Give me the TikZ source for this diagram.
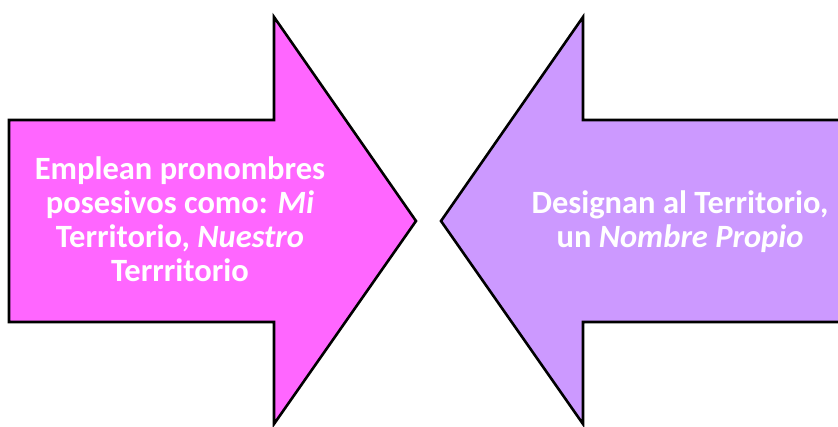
\documentclass[tikz,border=0pt]{standalone}
\usepackage{fontspec}
\setmainfont{Carlito}
\definecolor{pinkfill}{HTML}{FF66FF}
\definecolor{lilacfill}{HTML}{CC99FF}
\begin{document}
\begin{tikzpicture}[x=1pt,y=-1pt,
  arrowshape/.style={draw=black,line width=2.6pt,line join=miter},
  label/.style={text=white,font=\bfseries\fontsize{32.5}{34}\selectfont,align=center}]
\useasboundingbox (0,0) rectangle (838,426);
\begin{scope}
\clip (0,0) rectangle (838,426);
\draw[arrowshape,fill=pinkfill] (9,120) -- (274,120) -- (274,17) -- (416,221) -- (274,424) -- (274,322) -- (9,322) -- cycle;
\draw[arrowshape,fill=lilacfill] (860,120) -- (583,120) -- (583,17) -- (441,221) -- (583,424) -- (583,322) -- (860,322) -- cycle;
\end{scope}
\node[label] (lefttext) at (180,219) {Emplean pronombres\\posesivos como: \textit{Mi}\\Territorio, \textit{Nuestro}\\Terrritorio};
\node[label] (righttext) at (680,222) {Designan al Territorio,\\un \textit{Nombre Propio}};
\end{tikzpicture}
\end{document}
